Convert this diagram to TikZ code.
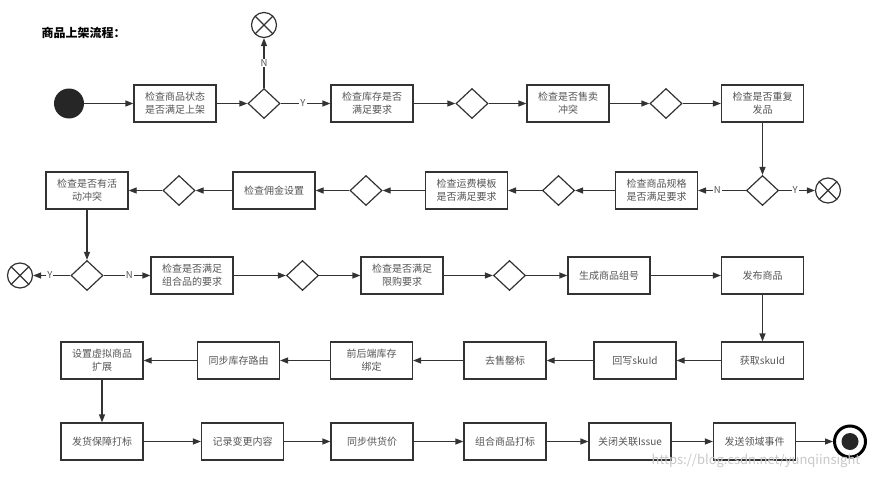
\documentclass[tikz,border=0pt]{standalone}
\usepackage{fontspec}
\setmainfont{Noto Sans CJK SC}
\usetikzlibrary{shapes.geometric,arrows.meta}
\definecolor{linegray}{HTML}{333333}
\definecolor{textgray}{HTML}{555555}

\begin{document}
\begin{tikzpicture}[x=1pt,y=-1pt,
  box/.style={draw=linegray,line width=1.2pt,minimum width=82pt,minimum height=37pt,
    inner sep=1pt,align=center,text=textgray,font=\fontsize{10}{13}\selectfont},
  choice/.style={diamond,draw=linegray,line width=1.2pt,minimum width=32pt,minimum height=30pt,inner sep=0pt},
  stopsign/.style={circle,draw=linegray,line width=1.2pt,minimum size=25pt,inner sep=0pt,
    path picture={\draw[linegray,line width=1.2pt]
      (path picture bounding box.north west) -- (path picture bounding box.south east)
      (path picture bounding box.south west) -- (path picture bounding box.north east);}},
  flow/.style={draw=linegray,line width=1.2pt,-{Triangle[length=8pt,width=6pt]}},
  yn/.style={fill=white,inner sep=1pt,text=textgray,font=\fontsize{9.5}{9.5}\selectfont}]
  \useasboundingbox (0,0) rectangle (881,479);

  \node [anchor=west,font=\fontsize{12}{12}\selectfont\bfseries] (title) at (38,33) {商品上架流程：};

  \node [circle,fill=black!85,minimum size=30pt,inner sep=0pt] (start) at (69,103.5) {};
  \node [box] (b1) at (175,103.5) {检查商品状态\\是否满足上架};
  \node [choice] (d1) at (264,103.5) {};
  \node [stopsign] (x1) at (264,25) {};
  \node [box] (b2) at (372,103.5) {检查库存是否\\满足要求};
  \node [choice] (d2) at (472,103.5) {};
  \node [box] (b3) at (568,103.5) {检查是否售卖\\冲突};
  \node [choice] (d3) at (666,103.5) {};
  \node [box] (b4) at (762.5,103.5) {检查是否重复\\发品};

  \node [choice] (d4) at (762.5,190.5) {};
  \node [stopsign] (x2) at (828,190.5) {};
  \node [box] (b5) at (656.5,190.5) {检查商品规格\\是否满足要求};
  \node [choice] (d5) at (558.5,190.5) {};
  \node [box] (b6) at (466.5,190.5) {检查运费模板\\是否满足要求};
  \node [choice] (d6) at (366,190.5) {};
  \node [box] (b7) at (274,190.5) {检查佣金设置};
  \node [choice] (d7) at (179,190.5) {};
  \node [box] (b8) at (87,190.5) {检查是否有活\\动冲突};

  \node [choice] (d8) at (87,275.5) {};
  \node [stopsign] (x3) at (20,275.5) {};
  \node [box] (b9) at (192,275.5) {检查是否满足\\组合品的要求};
  \node [choice] (d9) at (302.5,275.5) {};
  \node [box] (b10) at (402,275.5) {检查是否满足\\限购要求};
  \node [choice] (d10) at (509.5,275.5) {};
  \node [box] (b11) at (609,275.5) {生成商品组号};
  \node [box] (b12) at (762.5,275.5) {发布商品};

  \node [box] (b13) at (762.5,360.5) {获取skuId};
  \node [box] (b14) at (635,360.5) {回写skuId};
  \node [box] (b15) at (505,360.5) {去售罄标};
  \node [box] (b16) at (371.5,360.5) {前后端库存\\绑定};
  \node [box] (b17) at (238.5,360.5) {同步库存路由};
  \node [box] (b18) at (102,360.5) {设置虚拟商品\\扩展};

  \node [box] (b19) at (102,441.5) {发货保障打标};
  \node [box] (b20) at (242.5,441.5) {记录变更内容};
  \node [box] (b21) at (372,441.5) {同步供货价};
  \node [box] (b22) at (505,441.5) {组合商品打标};
  \node [box] (b23) at (630,441.5) {关闭关联Issue};
  \node [box] (b24) at (754.5,441.5) {发送领域事件};
  \node [circle,draw=black,line width=3pt,minimum size=31pt,inner sep=0pt] (end) at (850,441.5) {};
  \fill [black!85] (end.center) circle (8.5);

  \draw [flow] (start) -- (b1);
  \draw [flow] (b1) -- (d1);
  \draw [flow] (d1) -- (x1) node [yn,pos=0.5] {N};
  \draw [flow] (d1) -- (b2) node [yn,pos=0.45] {Y};
  \draw [flow] (b2) -- (d2);
  \draw [flow] (d2) -- (b3);
  \draw [flow] (b3) -- (d3);
  \draw [flow] (d3) -- (b4);
  \draw [flow] (b4) -- (d4);

  \draw [flow] (d4) -- (b5) node [yn,pos=0.6] {N};
  \draw [flow] (d4) -- (x2) node [yn,pos=0.45] {Y};
  \draw [flow] (b5) -- (d5);
  \draw [flow] (d5) -- (b6);
  \draw [flow] (b6) -- (d6);
  \draw [flow] (d6) -- (b7);
  \draw [flow] (b7) -- (d7);
  \draw [flow] (d7) -- (b8);
  \draw [flow] (b8) -- (d8);

  \draw [flow] (d8) -- (x3) node [yn,pos=0.55] {Y};
  \draw [flow] (d8) -- (b9) node [yn,pos=0.55] {N};
  \draw [flow] (b9) -- (d9);
  \draw [flow] (d9) -- (b10);
  \draw [flow] (b10) -- (d10);
  \draw [flow] (d10) -- (b11);
  \draw [flow] (b11) -- (b12);
  \draw [flow] (b12) -- (b13);

  \draw [flow] (b13) -- (b14);
  \draw [flow] (b14) -- (b15);
  \draw [flow] (b15) -- (b16);
  \draw [flow] (b16) -- (b17);
  \draw [flow] (b17) -- (b18);
  \draw [flow] (b18) -- (b19);

  \draw [flow] (b19) -- (b20);
  \draw [flow] (b20) -- (b21);
  \draw [flow] (b21) -- (b22);
  \draw [flow] (b22) -- (b23);
  \draw [flow] (b23) -- (b24);
  \draw [flow] (b24) -- (end);

  \node [text=black!22,font=\fontsize{13}{13}\selectfont] (mark) at (756,461) {https://blog.csdn.net/yunqiinsight};
\end{tikzpicture}
\end{document}
